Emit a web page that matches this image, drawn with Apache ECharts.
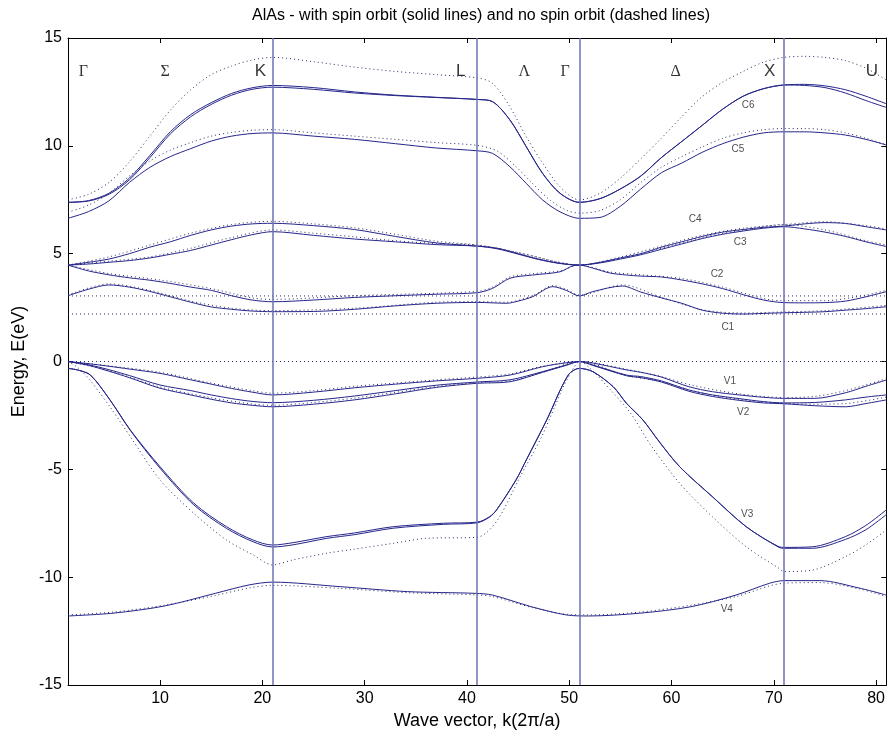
<!DOCTYPE html>
<html>
<head>
<meta charset="utf-8">
<script src="https://cdn.jsdelivr.net/npm/echarts@6/dist/echarts.min.js"></script>
<style>html,body{margin:0;padding:0;background:#fff}#c{width:888px;height:736px}</style>
</head>
<body>
<div id="c"></div>
<script>
// ---- data (k in units of index, E in eV) ----
const symLines = [21, 41, 51, 71];
const xTicks = [10, 20, 30, 40, 50, 60, 70, 80];
const flatLevels = [0, 2.2, 3.04];

// spin orbit (solid)
const C6a = [[1,7.38],[3,7.46],[5,7.8],[7,8.5],[9,9.55],[11,10.65],[13,11.45],[15,12.0],[17,12.43],[19,12.69],[21,12.8],[25,12.7],[29,12.5],[33,12.35],[37,12.25],[41,12.15],[42.5,12.05],[44.2,11.2],[45.8,9.96],[47.4,8.72],[49.1,7.8],[51,7.38],[53,7.55],[55,8.0],[57,8.6],[59,9.45],[61,10.2],[63,10.95],[65,11.7],[67,12.3],[69,12.65],[71,12.82],[73,12.85],[75,12.78],[77,12.6],[79,12.3],[81,11.95]];
const C6b = [[1,7.38],[3,7.44],[5,7.75],[7,8.42],[9,9.45],[11,10.55],[13,11.35],[15,11.92],[17,12.35],[19,12.62],[21,12.72],[25,12.62],[29,12.45],[33,12.33],[37,12.24],[41,12.15],[42.5,12.05],[44.2,11.2],[45.8,9.96],[47.4,8.72],[49.1,7.8],[51,7.38],[53,7.55],[55,8.0],[57,8.6],[59,9.45],[61,10.2],[63,10.95],[65,11.7],[67,12.3],[69,12.65],[71,12.82],[73,12.8],[75,12.7],[77,12.45],[79,12.1],[81,11.78]];
const C5 = [[1,6.64],[3,6.95],[5,7.45],[7,8.3],[9,9.0],[11,9.5],[13,9.87],[15,10.22],[17,10.45],[19,10.57],[21,10.6],[25,10.45],[29,10.3],[33,10.1],[37,9.9],[41,9.77],[42.5,9.65],[44.2,9.03],[45.8,8.26],[47.4,7.49],[49.1,6.94],[51,6.64],[53,6.68],[55,7.2],[57,8.0],[59,8.75],[61,9.2],[63,9.7],[65,10.1],[67,10.4],[69,10.6],[71,10.65],[73,10.65],[75,10.6],[77,10.5],[79,10.3],[81,10.04]];
const C4 = [[1,4.47],[3,4.6],[5,4.75],[7,5.0],[9,5.3],[11,5.55],[13,5.85],[15,6.1],[17,6.28],[19,6.38],[21,6.41],[25,6.3],[29,6.12],[33,5.8],[37,5.5],[41,5.35],[43,5.25],[45,5.0],[47,4.75],[49,4.56],[51,4.47],[53,4.6],[55,4.8],[57,5.0],[59,5.3],[61,5.55],[63,5.8],[65,6.0],[67,6.12],[69,6.22],[71,6.28],[73,6.38],[75,6.44],[77,6.4],[79,6.25],[81,6.1]];
const C3 = [[1,4.47],[3,4.52],[5,4.6],[7,4.68],[9,4.8],[11,4.97],[13,5.15],[15,5.4],[17,5.65],[19,5.88],[21,6.02],[25,5.85],[29,5.68],[33,5.55],[37,5.42],[41,5.35],[43,5.22],[45,4.98],[47,4.73],[49,4.55],[51,4.47],[53,4.57],[55,4.75],[57,4.95],[59,5.2],[61,5.45],[63,5.7],[65,5.9],[67,6.05],[69,6.18],[71,6.25],[73,6.15],[75,6.0],[77,5.8],[79,5.55],[81,5.33]];
const C2 = [[1,4.47],[3,4.2],[5,4.02],[7,3.88],[9,3.77],[11,3.62],[13,3.45],[15,3.3],[17,3.05],[19,2.85],[21,2.77],[25,2.85],[29,2.97],[33,3.05],[37,3.12],[41,3.19],[42.5,3.39],[44.2,3.86],[46.4,4.01],[49.1,4.16],[50.3,4.43],[51,4.47],[52.3,4.33],[54,4.1],[55.6,4.01],[57,3.96],[59,3.92],[61,3.78],[63,3.6],[65,3.38],[67,3.1],[69,2.85],[71,2.73],[73,2.72],[75,2.73],[77,2.8],[79,3.0],[81,3.24]];
const C1 = [[1,3.05],[3,3.35],[5,3.55],[7,3.45],[9,3.25],[11,3.0],[13,2.75],[15,2.53],[17,2.42],[19,2.34],[21,2.31],[25,2.32],[29,2.42],[33,2.58],[37,2.7],[41,2.74],[43.9,2.7],[45,2.8],[46.4,3.0],[48.4,3.47],[49.7,3.3],[51,3.04],[52.3,3.24],[55.2,3.5],[57,3.22],[59,2.95],[61,2.7],[63,2.38],[65,2.24],[67,2.2],[69,2.23],[71,2.26],[73,2.28],[75,2.31],[77,2.38],[79,2.45],[81,2.54]];
const V1 = [[1,0],[3,-0.1],[5,-0.22],[7,-0.35],[10,-0.55],[13,-0.85],[15,-1.05],[17,-1.25],[19,-1.42],[21,-1.55],[25,-1.42],[29,-1.22],[33,-1.05],[37,-0.9],[41,-0.78],[44.2,-0.63],[47.4,-0.24],[49.7,-0.06],[51,0],[52.3,-0.07],[55.6,-0.39],[57,-0.5],[59,-0.72],[61.7,-1.17],[64,-1.4],[66.6,-1.55],[69,-1.66],[71,-1.71],[74,-1.71],[77,-1.45],[79,-1.15],[81,-0.86]];
const V2a = [[1,0],[3,-0.15],[5,-0.38],[7,-0.65],[10,-1.09],[13,-1.35],[15,-1.55],[17,-1.72],[19,-1.85],[21,-1.91],[25,-1.8],[29,-1.6],[33,-1.35],[37,-1.1],[41,-0.95],[44.2,-0.85],[47.4,-0.47],[49.7,-0.16],[51,0],[52.3,-0.16],[55.6,-0.63],[57,-0.7],[59,-0.9],[61.7,-1.32],[64,-1.55],[66.6,-1.72],[69,-1.86],[71,-1.92],[74,-1.9],[77,-1.78],[79,-1.65],[81,-1.55]];
const V2b = [[1,0],[3,-0.18],[5,-0.45],[7,-0.75],[10,-1.24],[13,-1.55],[15,-1.75],[17,-1.92],[19,-2.03],[21,-2.1],[25,-1.98],[29,-1.78],[33,-1.5],[37,-1.2],[41,-1.01],[44.2,-0.94],[47.4,-0.5],[49.7,-0.18],[51,0],[52.3,-0.18],[55.6,-0.66],[57,-0.75],[59,-0.95],[61.7,-1.38],[64,-1.62],[66.6,-1.8],[69,-1.92],[71,-1.96],[74,-2.05],[77,-2.1],[79,-1.95],[81,-1.78]];
const V3a = [[1,-0.32],[2,-0.4],[3.2,-0.63],[5.1,-1.78],[7.1,-3.18],[10,-4.88],[13.3,-6.57],[16.5,-7.66],[19.1,-8.28],[21,-8.51],[23,-8.4],[26.3,-8.12],[29,-7.95],[32.8,-7.66],[37.7,-7.5],[41,-7.45],[42.2,-7.2],[42.9,-6.88],[44.8,-5.49],[45.8,-4.57],[47.8,-2.71],[49.9,-0.63],[51,-0.32],[52.3,-0.47],[54.3,-1.17],[55.6,-1.94],[57.2,-2.71],[58.8,-3.72],[60.8,-4.88],[64,-6.27],[67.3,-7.66],[70.5,-8.59],[71,-8.62],[73.8,-8.59],[77,-8.12],[79,-7.6],[81,-6.88]];
const V3b = [[1,-0.32],[2,-0.4],[3.2,-0.63],[5.1,-1.78],[7.1,-3.2],[10,-4.95],[13.3,-6.65],[16.5,-7.74],[19.1,-8.36],[21,-8.6],[23,-8.5],[26.3,-8.2],[29,-8.03],[32.8,-7.73],[37.7,-7.55],[41,-7.48],[42.2,-7.22],[42.9,-6.88],[44.8,-5.49],[45.8,-4.57],[47.8,-2.71],[49.9,-0.63],[51,-0.32],[52.3,-0.47],[54.3,-1.17],[55.6,-1.94],[57.2,-2.71],[58.8,-3.72],[60.8,-4.88],[64,-6.27],[67.3,-7.66],[70.5,-8.62],[71,-8.66],[73.8,-8.66],[77,-8.25],[79,-7.8],[81,-7.1]];
const V4 = [[1,-11.8],[5.4,-11.67],[10.4,-11.34],[15.4,-10.75],[18.7,-10.36],[21,-10.23],[27.6,-10.44],[34.2,-10.67],[40.8,-10.75],[42.5,-10.83],[46.3,-11.37],[49.7,-11.75],[51.9,-11.8],[56.9,-11.67],[61.9,-11.37],[66.3,-10.83],[69.6,-10.28],[71,-10.16],[74.5,-10.16],[78.4,-10.51],[81,-10.83]];

// no spin orbit (dotted)
const C6d = [[1,7.5],[3,7.75],[5,8.3],[7,9.25],[9,10.45],[11,11.65],[13,12.6],[15,13.3],[17,13.7],[19,13.98],[21,14.1],[25,13.9],[29,13.65],[33,13.45],[37,13.3],[41,13.15],[42.5,12.9],[44.2,11.81],[45.8,10.42],[47.4,9.2],[49.1,8.1],[51,7.49],[53,7.8],[55,8.5],[57,9.4],[59,10.35],[61,11.35],[63,12.28],[65,12.95],[67,13.45],[69,13.88],[71,14.1],[73,14.15],[75,14.1],[77,13.95],[79,13.6],[81,13.05]];
const C5d = [[1,6.92],[3,7.25],[5,7.8],[7,8.6],[9,9.3],[11,9.8],[13,10.15],[15,10.45],[17,10.62],[19,10.72],[21,10.75],[25,10.6],[29,10.45],[33,10.3],[37,10.15],[41,10.02],[43,9.75],[44.8,9.03],[46.4,8.26],[48.1,7.49],[49.7,7.02],[51,6.88],[53,7.0],[55,7.5],[57,8.3],[59,9.0],[61,9.5],[63,9.95],[65,10.35],[67,10.6],[69,10.75],[71,10.8],[73,10.8],[75,10.75],[77,10.6],[79,10.35],[81,10.05]];
const C4d = [[1,4.47],[5,4.85],[9,5.4],[13,5.95],[17,6.35],[21,6.5],[25,6.38],[29,6.2],[33,5.9],[37,5.58],[41,5.4],[45,5.05],[49,4.6],[51,4.47],[55,4.85],[59,5.35],[63,5.85],[67,6.18],[71,6.35],[75,6.48],[79,6.3],[81,6.15]];
const C3d = [[1,4.47],[5,4.65],[9,4.85],[13,5.25],[17,5.75],[21,6.1],[25,5.95],[29,5.78],[33,5.6],[37,5.47],[41,5.4],[45,5.05],[49,4.6],[51,4.47],[55,4.8],[59,5.25],[63,5.75],[67,6.1],[71,6.35],[75,6.1],[79,5.6],[81,5.4]];
const C2d = [[1,4.47],[5,4.08],[10,3.78],[15,3.38],[19,2.95],[21,2.88],[29,3.05],[41,3.25],[42.5,3.45],[44.2,3.92],[46.4,4.07],[49.1,4.2],[51,4.47],[54,4.15],[57,4.02],[61,3.85],[65,3.45],[69,2.92],[71,2.82],[75,2.82],[79,3.08],[81,3.3]];
const C1d = [[1,3.08],[5,3.6],[9,3.3],[13,2.8],[17,2.47],[21,2.36],[29,2.47],[37,2.75],[41,2.78],[43.9,2.75],[46.4,3.05],[48.4,3.52],[49.7,3.35],[51,3.08],[55.2,3.55],[59,2.98],[63,2.4],[67,2.25],[71,2.3],[75,2.36],[81,2.6]];
const V1d = [[1,0],[5,-0.2],[10,-0.5],[15,-1.0],[19,-1.35],[21,-1.47],[25,-1.35],[29,-1.15],[33,-1.0],[37,-0.85],[41,-0.72],[44.2,-0.58],[47.4,-0.22],[51,0],[55.6,-0.36],[59,-0.7],[62,-1.1],[66.6,-1.5],[71,-1.67],[74,-1.62],[77,-1.35],[81,-0.8]];
const V2d = [[1,0],[5,-0.42],[10,-1.18],[15,-1.68],[19,-1.97],[21,-2.03],[25,-1.9],[29,-1.7],[33,-1.43],[37,-1.16],[41,-0.98],[44.2,-0.9],[47.4,-0.5],[51,0],[55.6,-0.65],[59,-0.93],[62,-1.35],[66.6,-1.76],[71,-1.94],[74,-1.98],[77,-1.95],[81,-1.65]];
const V3d = [[1,0],[2,-0.3],[3.2,-0.9],[5.1,-2.1],[7.1,-3.49],[10,-5.49],[13.3,-7.04],[16.5,-8.28],[19.1,-8.97],[21,-9.43],[23,-9.2],[26.3,-8.89],[29,-8.7],[32.8,-8.43],[36,-8.2],[41,-8.15],[42,-7.9],[43.2,-7.2],[45.2,-5.34],[47.3,-3.49],[49.5,-1.1],[50.5,-0.25],[51,0],[52,-0.3],[54,-1.3],[56,-2.4],[58,-3.9],[60.8,-5.65],[64,-7.2],[67.3,-8.59],[70.5,-9.59],[71,-9.74],[73.8,-9.67],[77,-9.05],[79,-8.5],[81,-7.81]];
const V4d = [[1,-11.75],[5.4,-11.62],[10.4,-11.3],[15.4,-10.85],[18.7,-10.5],[21,-10.38],[27.6,-10.52],[34.2,-10.72],[40.8,-10.82],[42.5,-10.9],[46.3,-11.4],[49.7,-11.72],[51.9,-11.75],[56.9,-11.62],[61.9,-11.3],[66.3,-10.9],[69.6,-10.4],[71,-10.28],[74.5,-10.25],[78.4,-10.55],[81,-10.9]];

// text labels
const pointNames = ['Γ','Σ','K','L','Λ','Γ','Δ','X','U'];
const pointK = [2.5, 10.5, 19.8, 39.4, 45.6, 49.6, 60.4, 69.6, 79.6];
const pointE = 13.45;
const pointSerif = [true, true, false, false, true, true, true, false, false];
const bandNames = ['C6','C5','C4','C3','C2','C1','V1','V2','V3','V4'];
const bandLabelK = [67.5, 66.5, 62.3, 66.7, 64.45, 65.5, 65.7, 67.0, 67.4, 65.4];
const bandLabelE = [11.89, 9.84, 6.61, 5.53, 4.04, 1.61, -0.9, -2.37, -7.08, -11.49];

// ---- chart ----
const solidColor = '#25258a';
const dotColor = '#2a2a66';
const solid = [C6a, C6b, C5, C4, C3, C2, C1, V1, V2a, V2b, V3a, V3b, V4];
const dotted = [C6d, C5d, C4d, C3d, C2d, C1d, V1d, V2d, V3d, V4d];

const series = [];
dotted.forEach(d => series.push({
  type: 'line', data: d, showSymbol: false, smooth: 0.3, silent: true,
  lineStyle: { color: dotColor, width: 1, type: [1, 3] }, z: 2
}));
flatLevels.forEach(v => series.push({
  type: 'line', data: [[1, v], [81, v]], showSymbol: false, silent: true,
  lineStyle: { color: dotColor, width: 1, type: [1, 3] }, z: 2
}));
solid.forEach(d => series.push({
  type: 'line', data: d, showSymbol: false, smooth: 0.3, silent: true,
  lineStyle: { color: solidColor, width: 1 }, z: 3
}));
series.push({
  type: 'line', data: [], silent: true,
  markLine: {
    silent: true, symbol: ['none', 'none'], label: { show: false },
    lineStyle: { color: '#6c71b3', width: 1.5, type: 'solid' },
    data: symLines.map(k => ({ xAxis: k }))
  }
});
const fontSans = 'Liberation Sans, Arial, sans-serif';
const fontSerif = 'Liberation Serif, Times New Roman, serif';
series.push({
  type: 'scatter', symbolSize: 0, silent: true, z: 5,
  data: pointNames.map((n, i) => ({
    value: [pointK[i], pointE], name: n,
    label: pointSerif[i] ? { fontFamily: fontSerif, fontSize: 16 } : { fontFamily: fontSans, fontSize: 17 }
  })),
  label: { show: true, position: 'inside', formatter: p => p.name, color: '#000' }
});
series.push({
  type: 'scatter', symbolSize: 0, silent: true, z: 5,
  data: bandNames.map((n, i) => ({ value: [bandLabelK[i], bandLabelE[i]], name: n })),
  label: { show: true, position: 'inside', formatter: p => p.name, color: '#222', fontSize: 10, fontFamily: fontSans }
});

const tickCommon = { inside: true, length: 5, lineStyle: { color: '#000' } };
const lineCommon = { onZero: false, lineStyle: { color: '#000', width: 1 } };
const chart = echarts.init(document.getElementById('c'), null, { renderer: 'canvas' });
chart.setOption({
  animation: false,
  backgroundColor: '#fff',
  title: {
    text: 'AlAs - with spin orbit (solid lines) and no spin orbit (dashed lines)',
    left: 476, top: 3, textAlign: 'center',
    textStyle: { fontSize: 16, fontWeight: 'normal', color: '#000', fontFamily: fontSans }
  },
  grid: { left: 68, right: 1, top: 38, bottom: 51, show: false },
  xAxis: [{
    type: 'value', min: 1, max: 81, position: 'bottom',
    name: 'Wave vector, k(2π/a)', nameLocation: 'middle', nameGap: 24,
    nameTextStyle: { fontSize: 18, color: '#000', fontFamily: fontSans },
    axisLine: lineCommon,
    axisTick: Object.assign({ customValues: xTicks }, tickCommon),
    axisLabel: { customValues: xTicks, color: '#000', fontSize: 16, fontFamily: fontSans, margin: 6 },
    splitLine: { show: false }
  }, {
    type: 'value', min: 1, max: 81, position: 'top',
    axisLine: lineCommon,
    axisTick: Object.assign({ customValues: xTicks }, tickCommon),
    axisLabel: { show: false }, splitLine: { show: false }
  }],
  yAxis: [{
    type: 'value', min: -15, max: 15, interval: 5, position: 'left',
    name: 'Energy, E(eV)', nameLocation: 'middle', nameGap: 38,
    nameTextStyle: { fontSize: 18, color: '#000', fontFamily: fontSans },
    axisLine: lineCommon,
    axisTick: tickCommon,
    axisLabel: { color: '#000', fontSize: 16, fontFamily: fontSans, margin: 6 },
    splitLine: { show: false }
  }, {
    type: 'value', min: -15, max: 15, interval: 5, position: 'right',
    axisLine: lineCommon,
    axisTick: tickCommon, axisLabel: { show: false }, splitLine: { show: false }
  }],
  series: series
});
</script>
</body>
</html>
